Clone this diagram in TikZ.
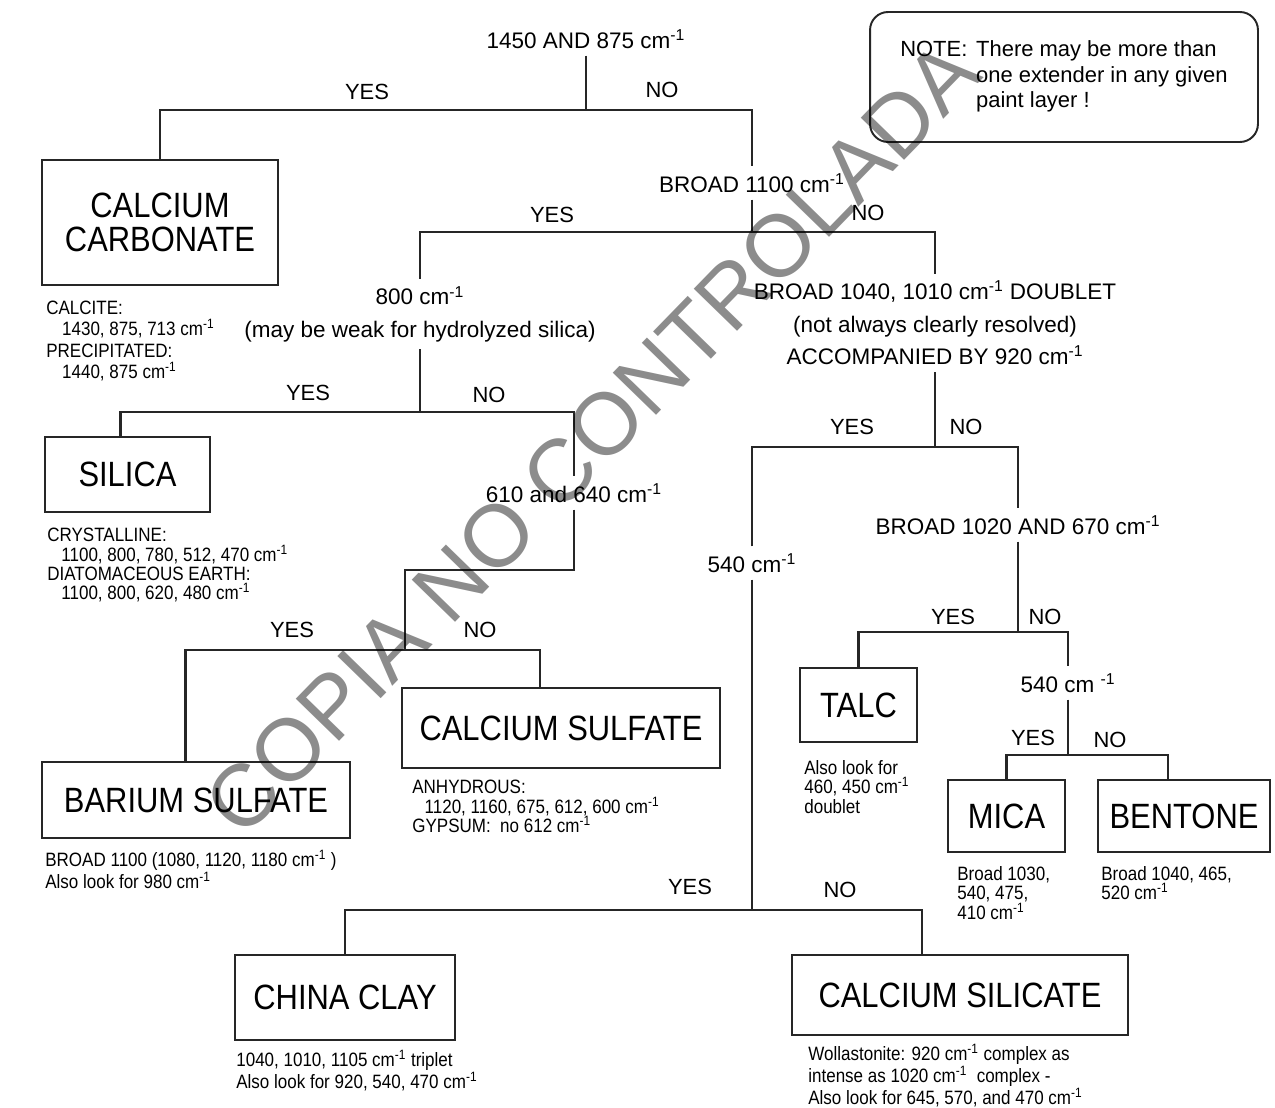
\documentclass[tikz,border=0pt]{standalone}
\usepackage{fontspec}
\setmainfont{Liberation Sans}
\newfontfamily\narrowfont{Liberation Sans}[FakeStretch=0.88]
\usetikzlibrary{calc}
\newcommand{\cmi}{cm\textsuperscript{-1}}

\begin{document}
\begin{tikzpicture}[
    x=0.02cm, y=-0.02cm,
    link/.style={line width=1.4pt, draw=black!85},
    extender/.style={
        draw=black!85, line width=1.1pt, inner sep=0pt, align=center,
        font=\narrowfont\fontsize{20}{19}\selectfont
    },
    question/.style={
        align=center, inner sep=4pt,
        font=\fontsize{12.8}{18.5}\selectfont
    },
    answer/.style={font=\fontsize{12.5}{14}\selectfont, inner sep=1pt},
    bandnote/.style={
        anchor=north west, align=left, inner sep=0pt,
        font=\narrowfont\fontsize{11}{11}\selectfont
    },
    remark/.style={
        draw=black!85, line width=1.1pt, rounded corners=0.36cm,
        inner sep=0pt, font=\fontsize{12.5}{14.6}\selectfont
    },
    stamp/.style={
        rotate=45.8, text=black, text opacity=0.45, inner sep=0pt,
        font=\fontsize{50}{50}\selectfont
    }
]
\fill[white] (0,0) rectangle (1275,1108);
\useasboundingbox (0,0) rectangle (1275,1108);

% --- questions ---
\node[question] (q1) at (586,39)  {1450 AND 875 \cmi};
\node[question] (q2) at (752,183) {BROAD 1100 \cmi};
\node[question] (q3) at (420,314) {800 \cmi\\(may be weak for hydrolyzed silica)};
\node[question] (q4) at (574,493) {610 and 640 \cmi};
\node[question] (q5) at (935,323) {BROAD 1040, 1010 \cmi{} DOUBLET\\(not always clearly resolved)\\ACCOMPANIED BY 920 \cmi};
\node[question] (q6) at (752,563) {540 \cmi};
\node[question] (q7) at (1018,525) {BROAD 1020 AND 670 \cmi};
\node[question] (q8) at (1068,683) {540 cm \textsuperscript{-1}};

% --- extenders ---
\node[extender, minimum width=4.72cm, minimum height=2.5cm] (cc) at (160,222.5) {CALCIUM\\CARBONATE};
\node[extender, minimum width=3.3cm, minimum height=1.5cm] (si) at (127.5,474.5) {SILICA};
\node[extender, minimum width=6.16cm, minimum height=1.52cm] (bs) at (196,800) {BARIUM SULFATE};
\node[extender, minimum width=6.36cm, minimum height=1.6cm] (cs) at (561,728) {CALCIUM SULFATE};
\node[extender, minimum width=2.34cm, minimum height=1.48cm] (talc) at (858.5,705) {TALC};
\node[extender, minimum width=2.34cm, minimum height=1.44cm] (mica) at (1006.5,816) {MICA};
\node[extender, minimum width=3.44cm, minimum height=1.44cm] (bent) at (1184,816) {BENTONE};
\node[extender, minimum width=4.4cm, minimum height=1.7cm] (clay) at (345,997.5) {CHINA CLAY};
\node[extender, minimum width=6.72cm, minimum height=1.6cm] (csil) at (960,995) {CALCIUM SILICATE};

% --- band notes ---
\node[bandnote, font=\narrowfont\fontsize{11}{12}\selectfont] (ccn) at (46,301)
    {CALCITE:\\\hspace*{9pt}1430, 875, 713 \cmi\\PRECIPITATED:\\\hspace*{9pt}1440, 875 \cmi};
\node[bandnote] (sin) at (47,528)
    {CRYSTALLINE:\\\hspace*{8pt}1100, 800, 780, 512, 470 \cmi\\DIATOMACEOUS EARTH:\\\hspace*{8pt}1100, 800, 620, 480 \cmi};
\node[bandnote] (bsn) at (45,850)
    {BROAD 1100 (1080, 1120, 1180 \cmi\ )\\Also look for 980 \cmi};
\node[bandnote] (csn) at (412,780)
    {ANHYDROUS:\\\hspace*{7pt}1120, 1160, 675, 612, 600 \cmi\\GYPSUM:\ \ no 612 \cmi};
\node[bandnote] (talcn) at (804,760) {Also look for\\460, 450 \cmi\\doublet};
\node[bandnote] (mican) at (957,866) {Broad 1030,\\540, 475,\\410 \cmi};
\node[bandnote] (bentn) at (1101,866) {Broad 1040, 465,\\520 \cmi};
\node[bandnote] (clayn) at (236,1050)
    {1040, 1010, 1105 \cmi\ triplet\\Also look for 920, 540, 470 \cmi};
\node[bandnote, font=\narrowfont\fontsize{11}{10.6}\selectfont] (csiln) at (808,1044)
    {Wollastonite: 920 \cmi\ complex as\\intense as 1020 \cmi\ \ complex -\\Also look for 645, 570, and 470 \cmi};

% --- note box ---
\node[remark, minimum width=7.76cm, minimum height=2.6cm] (note) at (1064,77)
    {\begin{tabular}{@{}l@{\hspace{5pt}}l@{}}
     NOTE: & There may be more than\\
           & one extender in any given\\
           & paint layer !
     \end{tabular}};

% --- branch points ---
\coordinate (bar1) at (586,110);
\coordinate (bar2) at (752,232);
\coordinate (bar3) at (420,412);
\coordinate (bend4) at (574,570);
\coordinate (bar4) at (405,650);
\coordinate (bar5) at (935,447);
\coordinate (bar7) at (1018,632);
\coordinate (bar8) at (1068,755);
\coordinate (bar6) at (752,910);

% --- connectors ---
\draw[link] (q1.south) -- (bar1);
\draw[link] (cc.north) |- (bar1) -| (q2.north);
\draw[link] (q2.south) -- (bar2);
\draw[link] (q3.north) |- (bar2) -| (q5.north);
\draw[link] (q3.south) -- (bar3);
\draw[link] ([xshift=-4pt]si.north) |- (bar3) -| (q4.north);
\draw[link] (q4.south) -- (bend4) -| (bar4);
\draw[link] ([xshift=-6pt]bs.north) |- (bar4) -| ([xshift=-12pt]cs.north);
\draw[link] (q5.south) -- (bar5);
\draw[link] (q6.north) |- (bar5) -| (q7.north);
\draw[link] (q7.south) -- (bar7);
\draw[link] (talc.north) |- (bar7) -| (q8.north);
\draw[link] (q8.south) -- (bar8);
\draw[link] (mica.north) |- (bar8) -| ([xshift=-9pt]bent.north);
\draw[link] (q6.south) -- (bar6);
\draw[link] (clay.north) |- (bar6) -| ([xshift=-21.6pt]csil.north);

% --- yes / no ---
\node[answer] (y1) at (367,92)  {YES};
\node[answer] (n1) at (662,90)  {NO};
\node[answer] (y2) at (552,215) {YES};
\node[answer] (n2) at (868,213) {NO};
\node[answer] (y3) at (308,393) {YES};
\node[answer] (n3) at (489,395) {NO};
\node[answer] (y4) at (292,630) {YES};
\node[answer] (n4) at (480,630) {NO};
\node[answer] (y5) at (852,427) {YES};
\node[answer] (n5) at (966,427) {NO};
\node[answer] (y7) at (953,617) {YES};
\node[answer] (n7) at (1045,617) {NO};
\node[answer] (y8) at (1033,738) {YES};
\node[answer] (n8) at (1110,740) {NO};
\node[answer] (y6) at (690,887) {YES};
\node[answer] (n6) at (840,890) {NO};

% watermark
\node[stamp] (wm) at (592,438) {COPIA NO CONTROLADA};

\end{tikzpicture}
\end{document}
